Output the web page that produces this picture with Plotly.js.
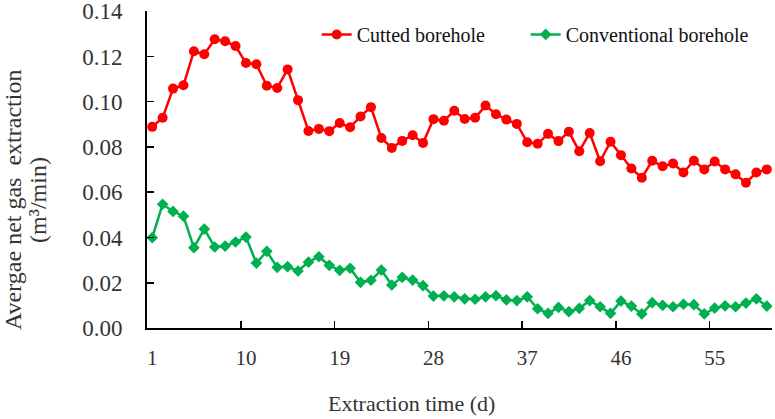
<!DOCTYPE html>
<html>
<head>
<meta charset="utf-8">
<script src="https://cdn.plot.ly/plotly-3.0.1.min.js"></script>
<style>
  html, body { margin: 0; padding: 0; background: #fff; }
  #chart { width: 775px; height: 419px; }
</style>
</head>
<body>
<div id="chart"></div>
<script>
// extraction days 1..60
var days = [];
for (var d = 1; d <= 60; d++) days.push(d);

var cutted = [
  0.0889, 0.0929, 0.1058, 0.1073, 0.1223, 0.1210, 0.1276, 0.1267, 0.1246, 0.1171,
  0.1166, 0.1071, 0.1061, 0.1143, 0.1007, 0.0871, 0.0880, 0.0870, 0.0906, 0.0887,
  0.0935, 0.0976, 0.0840, 0.0796, 0.0827, 0.0852, 0.0818, 0.0923, 0.0916, 0.0960,
  0.0924, 0.0929, 0.0983, 0.0945, 0.0921, 0.0902, 0.0821, 0.0814, 0.0858, 0.0826,
  0.0867, 0.0781, 0.0862, 0.0737, 0.0823, 0.0764, 0.0705, 0.0664, 0.0739, 0.0715,
  0.0727, 0.0687, 0.0739, 0.0701, 0.0736, 0.0701, 0.0679, 0.0642, 0.0687, 0.0701
];

var conventional = [
  0.0399, 0.0547, 0.0515, 0.0494, 0.0355, 0.0437, 0.0358, 0.0362, 0.0380, 0.0402,
  0.0287, 0.0339, 0.0268, 0.0271, 0.0252, 0.0291, 0.0315, 0.0277, 0.0255, 0.0264,
  0.0202, 0.0211, 0.0256, 0.0190, 0.0224, 0.0212, 0.0187, 0.0141, 0.0142, 0.0138,
  0.0129, 0.0127, 0.0138, 0.0143, 0.0124, 0.0121, 0.0138, 0.0085, 0.0065, 0.0091,
  0.0072, 0.0087, 0.0121, 0.0094, 0.0065, 0.0119, 0.0097, 0.0062, 0.0112, 0.0100,
  0.0094, 0.0105, 0.0103, 0.0062, 0.0088, 0.0098, 0.0094, 0.0110, 0.0129, 0.0097
];

var xLabels = [1, 10, 19, 28, 37, 46, 55];
var xTickMarks = [9.5, 18.5, 27.5, 36.5, 45.5, 54.5];
var yTicks = [0, 0.02, 0.04, 0.06, 0.08, 0.10, 0.12, 0.14];

var font = 'Liberation Serif';
var textColor = '#333';

var trace1 = {
  x: days,
  y: cutted,
  name: 'Cutted borehole',
  type: 'scatter',
  mode: 'lines+markers',
  line: {color: '#ff0000', width: 2.5},
  marker: {color: '#ff0000', symbol: 'circle', size: 10},
  legend: 'legend'
};

var trace2 = {
  x: days,
  y: conventional,
  name: 'Conventional borehole',
  type: 'scatter',
  mode: 'lines+markers',
  line: {color: '#00b050', width: 2.5},
  marker: {color: '#00b050', symbol: 'diamond', size: 9},
  legend: 'legend2'
};

var legendFont = {family: font, size: 20, color: '#111'};

var layout = {
  width: 775,
  height: 419,
  margin: {l: 147, r: 3, t: 11, b: 91},
  paper_bgcolor: '#fff',
  plot_bgcolor: '#fff',
  font: {family: font, color: textColor},
  showlegend: true,
  legend: {
    orientation: 'h',
    x: 0.2715, xanchor: 'left',
    y: 0.926, yanchor: 'middle',
    font: legendFont,
    bgcolor: 'rgba(0,0,0,0)'
  },
  legend2: {
    orientation: 'h',
    x: 0.6059, xanchor: 'left',
    y: 0.926, yanchor: 'middle',
    font: legendFont,
    bgcolor: 'rgba(0,0,0,0)'
  },
  xaxis: {
    range: [0.5, 60.5],
    tickmode: 'array',
    tickvals: xLabels,
    ticktext: xLabels.map(String),
    ticks: '',
    ticklabelstandoff: 10,
    tickfont: {family: font, size: 21, color: textColor},
    minor: {
      tickmode: 'array',
      tickvals: xTickMarks,
      ticks: 'inside',
      ticklen: 7,
      tickwidth: 1.5,
      tickcolor: '#000',
      showgrid: false
    },
    showline: true,
    linecolor: '#000',
    linewidth: 2,
    showgrid: false,
    zeroline: false
  },
  yaxis: {
    range: [0, 0.1401],
    tickmode: 'array',
    tickvals: yTicks,
    ticktext: yTicks.map(function (v) { return v.toFixed(2); }),
    ticks: 'inside',
    ticklen: 7,
    tickwidth: 1.5,
    tickcolor: '#000',
    ticklabelstandoff: 18,
    ticklabeloverflow: 'allow',
    tickfont: {family: font, size: 23, color: textColor},
    showline: true,
    linecolor: '#000',
    linewidth: 2,
    showgrid: false,
    zeroline: false
  },
  annotations: [
    {
      text: 'Extraction time (d)',
      xref: 'paper', yref: 'paper',
      x: 0.4224, y: 0, yshift: -75,
      xanchor: 'center', yanchor: 'middle',
      showarrow: false,
      font: {family: font, size: 22, color: textColor}
    },
    {
      text: 'Avergae net gas\u00a0 extraction',
      xref: 'paper', yref: 'paper',
      x: 0, xshift: -134, y: 0.404,
      xanchor: 'center', yanchor: 'middle',
      textangle: -90,
      showarrow: false,
      font: {family: font, size: 24, color: textColor}
    },
    {
      text: '(m\u00b3/min)',
      xref: 'paper', yref: 'paper',
      x: 0, xshift: -109, y: 0.404,
      xanchor: 'center', yanchor: 'middle',
      textangle: -90,
      showarrow: false,
      font: {family: font, size: 24, color: textColor}
    }
  ]
};

Plotly.newPlot('chart', [trace1, trace2], layout, {displayModeBar: false, staticPlot: true});
</script>
</body>
</html>
